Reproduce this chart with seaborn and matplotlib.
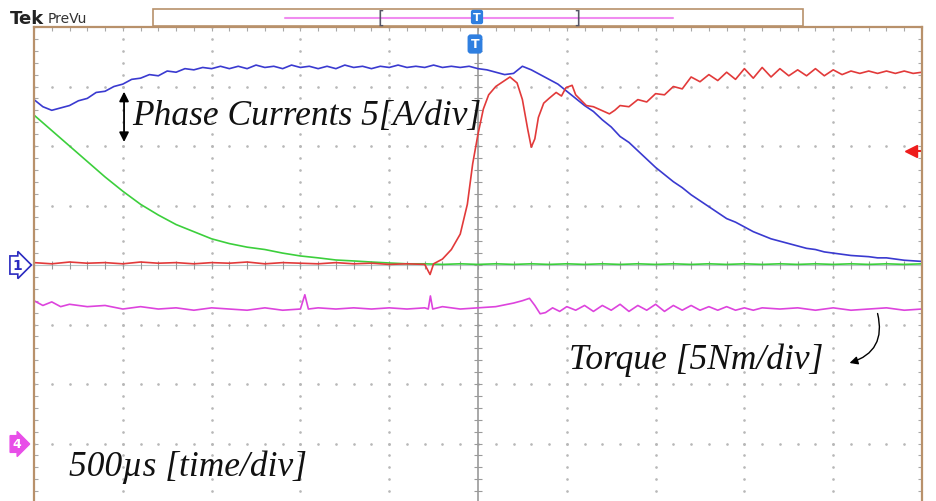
import numpy as np
import pandas as pd
import seaborn as sns
import matplotlib.pyplot as plt
from matplotlib.patches import Rectangle

# -------------------
# DATA
# time in us (trigger at 0), currents in A, torque in Nm
# -------------------
blue_t = list(range(-2500, 2501, 50))
blue_a = [
    13.9, 13.3, 13.0, 13.2, 13.4, 13.8, 14.0, 14.5, 14.6, 15.0,
    15.2, 15.6, 15.7, 16.0, 15.9, 16.3, 16.2, 16.5, 16.4, 16.6,
    16.5, 16.7, 16.5, 16.7, 16.5, 16.8, 16.6, 16.7, 16.5, 16.8,
    16.6, 16.7, 16.5, 16.7, 16.5, 16.8, 16.6, 16.7, 16.5, 16.7,
    16.6, 16.8, 16.6, 16.7, 16.6, 16.8, 16.6, 16.7, 16.6, 16.7,
    16.5, 16.4, 16.2, 16.0, 16.1, 16.7, 16.4, 16.0, 15.6, 15.2,
    14.6, 14.0, 13.4, 12.9, 12.2, 11.6, 10.8, 10.3, 9.6, 8.9,
    8.2, 7.6, 7.0, 6.5, 5.9, 5.4, 4.9, 4.4, 3.9, 3.6,
    3.2, 2.8, 2.5, 2.2, 2.0, 1.8, 1.6, 1.4, 1.3, 1.1,
    1.0, 0.9, 0.8, 0.75, 0.7, 0.6, 0.6, 0.5, 0.4, 0.35,
    0.3,
]

red_t = [
    -2500, -2400, -2300, -2200, -2100, -2000, -1900, -1800, -1700, -1600,
    -1500, -1400, -1300, -1200, -1100, -1000, -900, -800, -700, -600,
    -500, -400, -300, -270, -250, -200, -150, -100, -60, -30,
    0, 30, 60, 100, 150, 180, 220, 250, 280, 300,
    320, 340, 370, 400, 440, 470, 495, 530, 550, 570,
    610, 650, 680, 710, 740, 770, 800, 850, 900, 950,
    1000, 1050, 1100, 1150, 1200, 1250, 1300, 1350, 1400, 1450,
    1500, 1550, 1600, 1650, 1700, 1750, 1800, 1850, 1900, 1950,
    2000, 2050, 2100, 2150, 2200, 2250, 2300, 2350, 2400, 2450,
    2500,
]
red_a = [
    0.2, 0.1, 0.25, 0.15, 0.2, 0.1, 0.25, 0.15, 0.2, 0.1,
    0.2, 0.15, 0.25, 0.1, 0.2, 0.15, 0.1, 0.2, 0.1, 0.15,
    0.05, 0.1, 0.05, -0.8, 0.1, 0.5, 1.3, 2.6, 5.1, 8.5,
    11.0, 13.1, 14.3, 15.0, 15.5, 15.8, 15.3, 13.9, 11.4, 9.9,
    10.6, 12.4, 13.6, 14.0, 14.5, 14.2, 14.9, 15.1, 14.3, 14.0,
    13.4, 13.3, 13.1, 12.9, 12.7, 13.0, 13.4, 13.3, 13.9, 13.7,
    14.4, 14.3, 15.0, 14.8, 15.8, 15.4, 16.0, 15.5, 16.2, 15.6,
    16.5, 15.7, 16.6, 15.8, 16.5, 15.9, 16.4, 15.9, 16.5, 15.9,
    16.4, 16.0, 16.3, 16.1, 16.3, 16.1, 16.3, 16.1, 16.3, 16.1,
    16.2,
]

green_t = list(range(-2500, 2501, 100))
green_a = [
    12.6, 11.3, 10.0, 8.7, 7.4, 6.2, 5.1, 4.2, 3.4, 2.8,
    2.2, 1.8, 1.5, 1.3, 1.0, 0.76, 0.6, 0.42, 0.34, 0.25,
    0.17, 0.1, 0.1, 0.05, 0.1, 0.05, 0.1, 0.05, 0.1, 0.05,
    0.1, 0.05, 0.1, 0.05, 0.1, 0.05, 0.1, 0.05, 0.1, 0.05,
    0.1, 0.05, 0.1, 0.05, 0.1, 0.05, 0.1, 0.05, 0.1, 0.05,
    0.1,
]

torque_t = [
    -2500, -2450, -2400, -2350, -2300, -2200, -2100, -2000, -1900, -1800,
    -1700, -1600, -1500, -1400, -1300, -1200, -1100, -1000, -975, -955,
    -900, -800, -700, -600, -500, -400, -300, -280, -268, -255,
    -200, -100, 0, 100, 200, 250, 290, 320, 350, 380,
    420, 460, 500, 550, 600, 650, 700, 750, 800, 850,
    900, 950, 1000, 1050, 1100, 1150, 1200, 1250, 1300, 1350,
    1400, 1450, 1500, 1550, 1600, 1700, 1800, 1900, 2000, 2100,
    2200, 2300, 2400, 2500,
]
torque_nm = [
    12.0, 11.6, 11.9, 11.5, 11.7, 11.5, 11.6, 11.3, 11.5, 11.3,
    11.4, 11.2, 11.4, 11.3, 11.2, 11.4, 11.2, 11.3, 12.5, 11.3,
    11.4, 11.3, 11.4, 11.3, 11.4, 11.3, 11.4, 11.3, 12.4, 11.3,
    11.5, 11.3, 11.4, 11.5, 11.8, 12.0, 12.2, 11.6, 10.9, 11.0,
    11.4, 11.1, 11.5, 11.2, 11.6, 11.1, 11.6, 11.2, 11.7, 11.1,
    11.6, 11.2, 11.7, 11.1, 11.6, 11.2, 11.6, 11.2, 11.5, 11.2,
    11.5, 11.2, 11.4, 11.2, 11.4, 11.3, 11.4, 11.2, 11.4, 11.2,
    11.3, 11.4, 11.2, 11.3,
]

# scope settings
amp_per_div = 5
nm_per_div = 5
ch4_offset = -3  # ch4 ground, in divisions below ch1 ground

# -------------------
# STYLE
# -------------------
sns.set_theme(style="white")
plt.rcParams['font.family'] = ['DejaVu Sans']

fig = plt.figure(figsize=(9.37, 5.02), dpi=100)
W, H = 937, 502
ax = fig.add_axes([34 / W, -2 / H, 888 / W, 476 / H])
ax.set_xlim(-2500, 2500)
ax.set_ylim(-4, 4)

frame = '#b8916b'
for side in ['left', 'right', 'top', 'bottom']:
    ax.spines[side].set_color(frame)
    ax.spines[side].set_linewidth(1.6)

# edge ticks, 5 per division
ax.set_xticks(np.arange(-2500, 2501, 100))
ax.set_yticks(np.arange(-4, 4.01, 0.2))
ax.tick_params(direction='in', length=3, width=0.8, color='#a8a8a8',
               top=True, bottom=False, left=True, right=True,
               labelleft=False, labelbottom=False)

# dotted graticule
dot = dict(ls='none', marker='.', ms=1.8, color='#b8b8b8', zorder=1)
ys = np.arange(-4, 4.01, 0.2)
xs = np.arange(-2500, 2501, 100)
for gx in range(-2000, 2001, 500):
    if gx != 0:
        ax.plot([gx] * len(ys), ys, **dot)
for gy in [-3, -2, -1, 1, 2, 3]:
    ax.plot(xs, [gy] * len(xs), **dot)

# center cross with tick marks
ax.axvline(0, color='#9a9a9a', lw=1.2, zorder=1)
ax.axhline(0, color='#b8c8c8', lw=0.8, zorder=1)
ax.plot([0] * len(ys), ys, ls='none', marker='_', ms=6, mew=0.8, color='#9a9a9a', zorder=1)
ax.plot(xs, [0] * len(xs), ls='none', marker='|', ms=6, mew=0.8, color='#9a9a9a', zorder=1)

# -------------------
# TRACES
# -------------------
df_blue = pd.DataFrame({'t': blue_t, 'div': np.array(blue_a) / amp_per_div})
df_red = pd.DataFrame({'t': red_t, 'div': np.array(red_a) / amp_per_div})
df_green = pd.DataFrame({'t': green_t, 'div': np.array(green_a) / amp_per_div})
df_torque = pd.DataFrame({'t': torque_t,
                          'div': ch4_offset + np.array(torque_nm) / nm_per_div})

sns.lineplot(data=df_green, x='t', y='div', color='#3ccf3c', lw=1.2, sort=False, estimator=None, ax=ax)
sns.lineplot(data=df_blue, x='t', y='div', color='#3a3ad0', lw=1.2, sort=False, estimator=None, ax=ax)
sns.lineplot(data=df_red, x='t', y='div', color='#e23a3a', lw=1.2, sort=False, estimator=None, ax=ax)
sns.lineplot(data=df_torque, x='t', y='div', color='#dd44dd', lw=1.2, sort=False, estimator=None, ax=ax)
ax.set_xlabel('')
ax.set_ylabel('')

# -------------------
# ANNOTATIONS
# -------------------
serif = dict(family='Liberation Serif', style='italic', fontsize=25.5, color='#111111')
ax.text(-1948, 2.52, 'Phase Currents 5[A/div]', ha='left', va='center', **serif)
ax.text(512, -1.58, 'Torque [5Nm/div]', ha='left', va='center', **serif)
ax.text(-2303, -3.38, '500\u00b5s [time/div]', ha='left', va='center', **serif)

ax.annotate('', xy=(-1993, 2.02), xytext=(-1993, 2.96),
            arrowprops=dict(arrowstyle='<|-|>', color='black', lw=1.3, mutation_scale=14))
ax.annotate('', xy=(2077, -1.66), xytext=(2246, -0.77),
            arrowprops=dict(arrowstyle='-|>', color='black', lw=1.0, mutation_scale=12,
                            connectionstyle='arc3,rad=-0.5'))

# trigger level marker
ax.plot([2440, 2500], [1.92, 1.92], color='#ee1c1c', lw=1.5, clip_on=False)
ax.plot([2440], [1.92], marker='<', ms=8, color='#ee1c1c', clip_on=False)

# channel markers
fig.text(12 / W, 1 - 266 / H, '1', ha='left', va='center', color='#2a2ac0', fontsize=10,
         fontweight='bold', bbox=dict(boxstyle='rarrow,pad=0.15', fc='white', ec='#2a2ac0', lw=1.2))
fig.text(12 / W, 1 - 445 / H, '4', ha='left', va='center', color='white', fontsize=9,
         fontweight='bold', bbox=dict(boxstyle='rarrow,pad=0.15', fc='#e84ee8', ec='#e84ee8'))

# header
fig.text(10 / W, 1 - 19 / H, 'Tek', ha='left', va='center', fontsize=13, fontweight='bold', color='#222222')
fig.text(48 / W, 1 - 19 / H, 'PreVu', ha='left', va='center', fontsize=10, color='#333333')
fig.add_artist(Rectangle((153 / W, 1 - 27 / H), 650 / W, 17 / H, transform=fig.transFigure,
                         fc='white', ec=frame, lw=1.2))
fig.add_artist(plt.Line2D([285 / W, 673 / W], [1 - 18.5 / H] * 2, transform=fig.transFigure,
                          color='#f08cf0', lw=1.5))
fig.text(381 / W, 1 - 18.5 / H, '[', ha='center', va='center', fontsize=13, color='#555566')
fig.text(577 / W, 1 - 18.5 / H, ']', ha='center', va='center', fontsize=13, color='#555566')
fig.text(477 / W, 1 - 18 / H, 'T', ha='center', va='center', fontsize=8, color='white', fontweight='bold',
         bbox=dict(boxstyle='round,pad=0.2', fc='#2f7fe0', ec='none'))
fig.text(475 / W, 1 - 45 / H, 'T', ha='center', va='center', fontsize=9, color='white', fontweight='bold',
         bbox=dict(boxstyle='round,pad=0.25', fc='#2f7fe0', ec='none'))

fig.savefig('out.png', dpi=100)
